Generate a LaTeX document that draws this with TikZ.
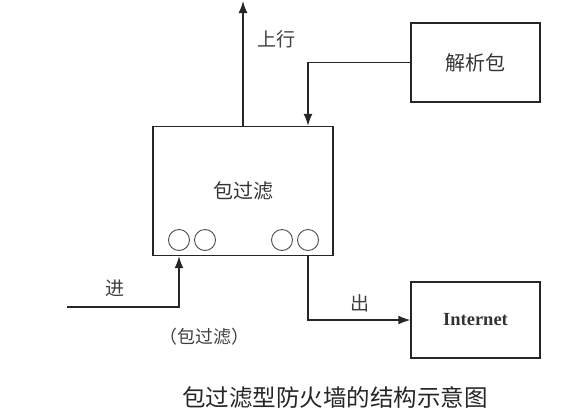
\documentclass[tikz,border=0pt]{standalone}
\usepackage{fontspec}
\setmainfont{Liberation Serif}
\newfontfamily\cjk{Noto Sans CJK SC}
\usetikzlibrary{arrows.meta,positioning,calc}

\begin{document}
\begin{tikzpicture}[x=1pt, y=-1pt, >={Latex[length=12pt,width=9pt]}, semithick,
      box/.style={rectangle,draw=black!85,line width=1.4pt,text=black!80,font=\cjk\fontsize{20}{22}\selectfont},
      port/.style={circle,draw=black!70,line width=0.9pt,minimum size=21pt,inner sep=0pt},
      lbl/.style={text=black!75,font=\cjk\fontsize{19}{21}\selectfont},
      wire/.style={line width=1.4pt,draw=black!85}]
    \useasboundingbox (0,0) rectangle (585,418);
    % boxes
    \node[box,minimum width=180pt,minimum height=129pt] at (243,191) (filter) {包过滤};
    \node[box,minimum width=129pt,minimum height=79pt] at (475.5,62.5) (parse) {解析包};
    \node[box,minimum width=129pt,minimum height=76pt,font=\bfseries\fontsize{18.5}{20}\selectfont] at (475.5,320) (inet) {Internet};
    % ports
    \node[port] at (179,240) (p1) {}; \node[port] at (205,240) (p2) {};
    \node[port] at (282,240) (p3) {}; \node[port] at (308,240) (p4) {};
    % free ends
    \coordinate (up) at (243,1);
    \coordinate (in) at (67,307);
    % connectors
    \draw[wire,->] (filter.north) -- (up);
    \draw[wire,->] (parse.west) -| (p4 |- filter.north);
    \draw[wire,->] (in) -| (p1 |- filter.south);
    \draw[wire,->] (p4 |- filter.south) |- (inet.west);
    % labels
    \node[lbl] at (276,39) (upl) {上行};
    \node[lbl] at (115,288) (inl) {进};
    \node[lbl] at (360,303) (outl) {出};
    \node[lbl,font=\cjk\fontsize{18}{20}\selectfont] at (204,337) (note) {（包过滤）};
    \node[text=black!85,font=\cjk\fontsize{23.5}{25}\selectfont] at (335,398) (caption) {包过滤型防火墙的结构示意图};
\end{tikzpicture}
\end{document}
